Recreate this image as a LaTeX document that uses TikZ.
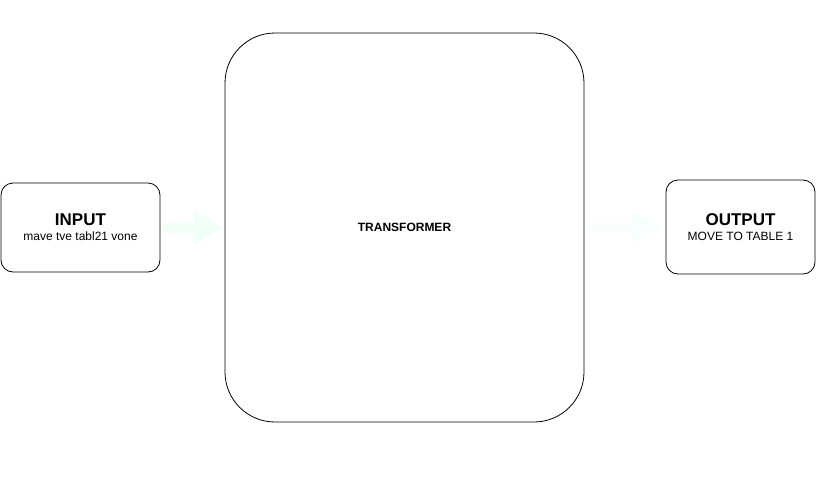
\documentclass[tikz,border=0pt]{standalone}
\usepackage{fontspec}
\setmainfont{Liberation Sans}
\usetikzlibrary{arrows.meta}
\definecolor{flowin}{RGB}{241,255,249}
\definecolor{flowout}{RGB}{248,255,252}
\tikzset{
  smallbox/.style={draw,thick,rounded corners=12pt,align=center,inner sep=0pt},
  bigbox/.style={draw,thick,rounded corners=50pt,inner sep=0pt},
  flow/.style={line width=10pt,-{Triangle[length=29pt,width=33pt]}}
}
\begin{document}
\begin{tikzpicture}[x=1pt,y=-1pt]
\useasboundingbox (0,0) rectangle (816,482);
\node[smallbox,minimum width=159pt,minimum height=89pt] (in) at (80.5,227.5)
  {{\fontsize{17}{17}\bfseries INPUT}\\[3pt]{\fontsize{12}{14}\selectfont mave tve tabl21 vone}};
\node[bigbox,minimum width=359pt,minimum height=389pt] (tr) at (404.5,227.5)
  {\fontsize{12}{14}\bfseries TRANSFORMER};
\node[smallbox,minimum width=149pt,minimum height=94pt] (out) at (740.5,227)
  {{\fontsize{17}{17}\bfseries OUTPUT}\\[3pt]{\fontsize{12}{14}\selectfont MOVE TO TABLE 1}};
\draw[flow,flowin,shorten <=3pt,shorten >=2pt] (in) -- (tr);
\draw[flow,flowout,line width=8pt,shorten <=4pt,shorten >=4pt] (tr) -- (out);
\end{tikzpicture}
\end{document}
